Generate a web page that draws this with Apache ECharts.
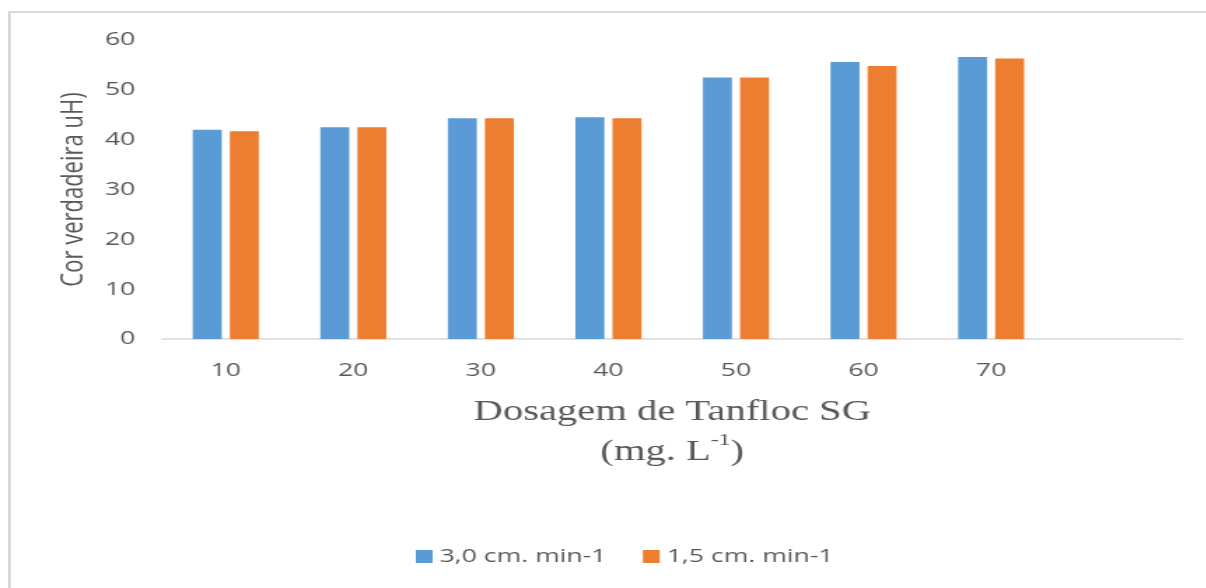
<!DOCTYPE html>
<html>
<head>
<meta charset="utf-8">
<script src="https://cdn.jsdelivr.net/npm/echarts@6/dist/echarts.min.js"></script>
<style>
  html, body { margin: 0; padding: 0; background: #fff; overflow: hidden; }
  #frame {
    position: absolute; left: 8px; top: 11px; right: 0; bottom: 0;
    border-top: 2.5px solid #d9d9d9; border-left: 3px solid #d9d9d9;
  }
  /* the chart is laid out on a narrower canvas and widened to the page */
  #chart {
    position: absolute; left: 0; top: 0;
    width: 861.4px; height: 588px;
    transform: scaleX(1.4); transform-origin: 0 0;
  }
</style>
</head>
<body>
<div id="frame"></div>
<div id="chart"></div>
<script>
// Dosagem de Tanfloc SG (mg/L), the last slot is left empty
const categories = ['10', '20', '30', '40', '50', '60', '70', ''];
const seriesNames = ['3,0 cm. min-1', '1,5 cm. min-1'];
const flow30 = [42.0, 42.5, 44.3, 44.5, 52.5, 55.6, 56.6];
const flow15 = [41.7, 42.5, 44.3, 44.3, 52.5, 54.8, 56.3];
const yTicks = [0, 10, 20, 30, 40, 50, 60];

const textColor = '#595959';
const sans = '"Open Sans", "Noto Sans", sans-serif';
const serif = '"Liberation Serif", "Times New Roman", serif';

const chart = echarts.init(document.getElementById('chart'), null, { renderer: 'canvas' });
chart.setOption({
  animation: false,
  color: ['#5b9bd5', '#ed7d31'],
  grid: { left: 115.7, right: 16.4, top: 40, bottom: 249, containLabel: false },
  legend: {
    data: seriesNames,
    left: 292,
    top: 542,
    itemWidth: 12,
    itemHeight: 13,
    itemGap: 26,
    icon: 'rect',
    textStyle: { color: textColor, fontFamily: sans, fontSize: 19 }
  },
  xAxis: {
    type: 'category',
    data: categories,
    axisTick: { show: false },
    axisLine: { lineStyle: { color: '#d9d9d9', width: 1.5 } },
    axisLabel: { color: textColor, fontFamily: sans, fontSize: 19, margin: 22 },
    name: '{a|Dosagem de Tanfloc SG}\n{a|(mg. L}{s|-1}{a|)}',
    nameLocation: 'middle',
    nameGap: 53,
    nameTextStyle: {
      rich: {
        a: { fontFamily: serif, fontSize: 29, color: textColor, lineHeight: 40 },
        s: { fontFamily: serif, fontSize: 17, color: textColor, lineHeight: 40, verticalAlign: 'top', padding: [0, 0, 8, 0] }
      }
    }
  },
  yAxis: {
    type: 'value',
    min: yTicks[0],
    max: yTicks[yTicks.length - 1],
    interval: 10,
    splitLine: { show: false },
    axisLine: { show: false },
    axisTick: { show: false },
    axisLabel: { color: textColor, fontFamily: sans, fontSize: 19, margin: 19 },
    name: 'Cor verdadeira uH)',
    nameLocation: 'middle',
    nameRotate: 90,
    nameGap: 51,
    nameTextStyle: { color: textColor, fontFamily: sans, fontSize: 22 }
  },
  series: [
    { name: seriesNames[0], type: 'bar', data: flow30, barWidth: 20.7, barGap: '28%' },
    { name: seriesNames[1], type: 'bar', data: flow15, barWidth: 20.7, barGap: '28%' }
  ]
});
</script>
</body>
</html>
